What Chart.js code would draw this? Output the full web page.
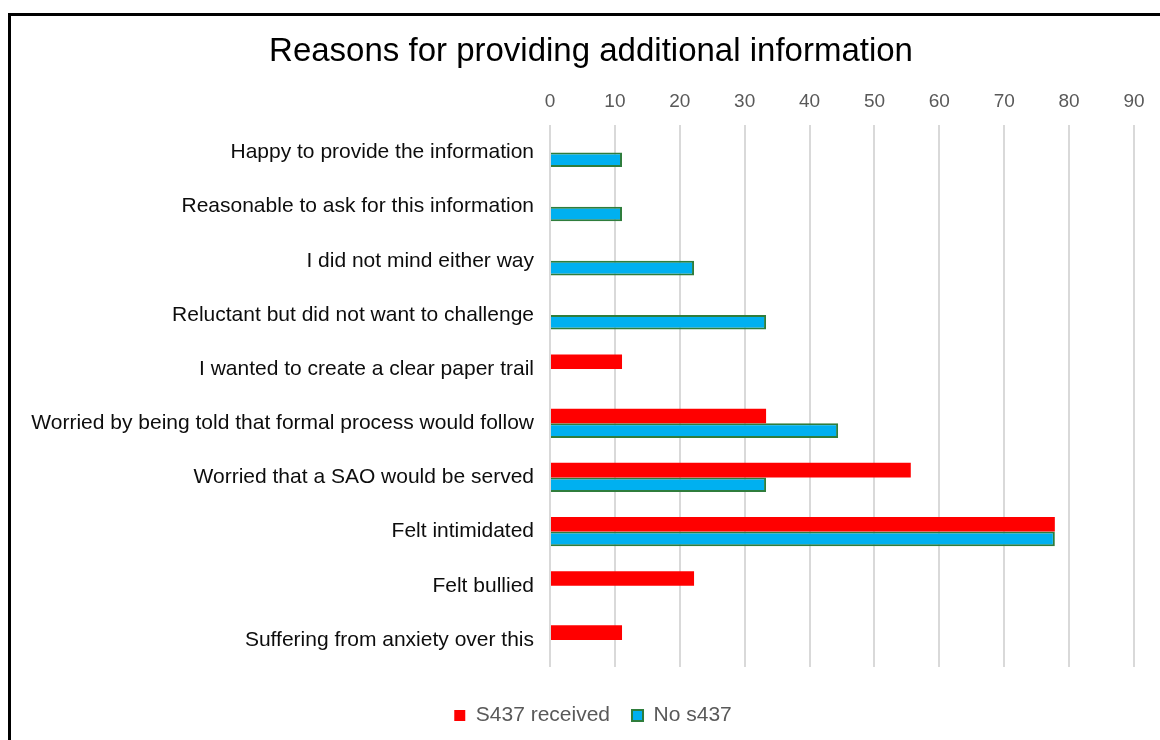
<!DOCTYPE html>
<html>
<head>
<meta charset="utf-8">
<script src="https://cdn.jsdelivr.net/npm/chart.js@4"></script>
<style>
  html, body { margin: 0; padding: 0; background: #fff; }
  #wrap { position: relative; width: 1160px; height: 740px; overflow: hidden; }
  #frame { position: absolute; left: 8px; top: 13px; width: 1200px; height: 800px;
           border-left: 3px solid #000; border-top: 3px solid #000; pointer-events: none; }
  canvas { position: absolute; left: 0; top: 0; }
</style>
</head>
<body>
<div id="wrap">
  <canvas id="chart" width="1160" height="740"></canvas>
  <div id="frame"></div>
</div>
<script>
const categories = [
  'Happy to provide the information',
  'Reasonable to ask for this information',
  'I did not mind either way',
  'Reluctant but did not want to challenge',
  'I wanted to create a clear paper trail',
  'Worried by being told that formal process would follow',
  'Worried that a SAO would be served',
  'Felt intimidated',
  'Felt bullied',
  'Suffering from anxiety over this'
];
const s437Received = [0, 0, 0, 0, 11.1, 33.3, 55.6, 77.8, 22.2, 11.1];
const noS437 = [11.1, 11.1, 22.2, 33.3, 0, 44.4, 33.3, 77.8, 0, 0];
const seriesNames = ['S437 received', 'No s437'];

const FONT = "'Liberation Sans', Arial, sans-serif";

// title and legend are centred a bit right of the canvas centre
const shiftBlocks = {
  id: 'shiftBlocks',
  afterLayout(chart) {
    if (chart.titleBlock) chart.titleBlock.left += 28;
    if (chart.legend) chart.legend.left += 32;
  }
};

new Chart(document.getElementById('chart'), {
  type: 'bar',
  data: {
    labels: categories,
    datasets: [
      { label: seriesNames[0], data: s437Received, backgroundColor: '#ff0000', borderWidth: 0,
        categoryPercentage: 0.54, barPercentage: 1 },
      { label: seriesNames[1], data: noS437, backgroundColor: '#00b0f0', borderColor: '#2f7d3c', borderWidth: 2,
        categoryPercentage: 0.54, barPercentage: 1 }
    ]
  },
  options: {
    indexAxis: 'y',
    responsive: false,
    animation: false,
    layout: { padding: { left: 20, right: 26, top: 20, bottom: 4 } },
    scales: {
      x: {
        position: 'top',
        min: 0, max: 90,
        ticks: { stepSize: 10, color: '#595959', font: { family: FONT, size: 19 }, padding: 12 },
        grid: { color: '#d9d9d9', lineWidth: 2, drawTicks: false },
        border: { display: false }
      },
      y: {
        ticks: { color: '#0d0d0d', font: { family: FONT, size: 21 }, padding: 16 },
        grid: { display: false, drawTicks: false },
        border: { display: false },
        afterFit: s => { s.width = 530; }
      }
    },
    plugins: {
      title: {
        display: true,
        text: 'Reasons for providing additional information',
        color: '#000',
        font: { family: FONT, size: 33, weight: 'normal' },
        padding: { top: 12, bottom: 7 }
      },
      legend: {
        position: 'bottom',
        title: { display: true, text: ' ', font: { family: FONT, size: 10 }, padding: { top: 0, bottom: 4 } },
        labels: {
          color: '#595959',
          font: { family: FONT, size: 21 },
          boxWidth: 11, boxHeight: 11,
          padding: 22
        }
      },
      tooltip: { enabled: false }
    }
  },
  plugins: [shiftBlocks]
});
</script>
</body>
</html>
